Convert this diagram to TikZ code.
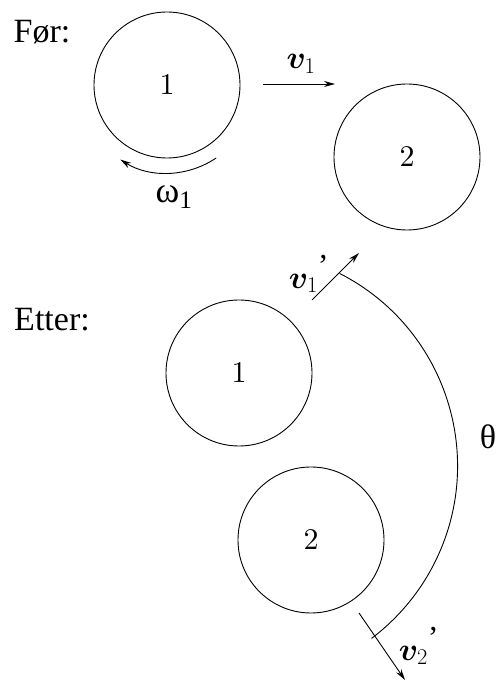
\RequirePackage{fix-cm}
\documentclass[tikz,border=0pt]{standalone}
\usepackage{fontspec}
\setmainfont{Liberation Serif}
\newfontfamily\lmten{lmroman10-regular.otf}
\usepackage{bm}
\usetikzlibrary{arrows.meta}

\begin{document}
\begin{tikzpicture}[x=1pt, y=1pt, font=\fontsize{34}{40}\selectfont,
  ball/.style={circle, draw, line width=0.9pt, minimum size=146pt, inner sep=0pt, font=\lmten\fontsize{30}{36}\selectfont},
  vlabel/.style={font=\fontsize{32}{38}\selectfont},
  vec/.style={line width=0.9pt, -{Stealth[length=11pt, width=6pt]}}]
  \useasboundingbox (0,0) rectangle (498,681);

  % before the collision
  \node (lblFor) at (42,649) {Før:};
  \node[ball] (befA) at (167,596) {1};
  \node[ball] (befB) at (407,524) {2};
  \coordinate (v1tail) at (263,597);
  \coordinate (v1tip) at (335,597);
  \draw[vec] (v1tail) -- (v1tip);
  \node[vlabel] (lblV1) at (301,617) {$\bm{v}_1$};
  % spin of ball 1
  \draw[vec] ([shift={(-56:88)}]befA.center) arc[start angle=-56, end angle=-122, radius=88];
  \node[font=\fontsize{36}{42}\selectfont] (lblOmega) at (174,484) {ω\textsubscript{1}};

  % after the collision
  \node (lblEtter) at (52,361) {Etter:};
  \node[ball] (aftA) at (239,308) {1};
  \node[ball] (aftB) at (311,141) {2};
  % scattering angle
  \coordinate (arcC) at (242,216);
  \draw[line width=0.9pt] ([shift={(63:215)}]arcC) arc[start angle=63, end angle=-53, radius=216];
  \node (lblTheta) at (488,244) {θ};
  % outgoing velocities
  \coordinate (v1ptail) at (312,381);
  \coordinate (v1ptip) at (359,428);
  \draw[vec] (v1ptail) -- (v1ptip);
  \node[vlabel] (lblV1p) at (309,407) {${\bm{v}_1}^{\textrm{’}}$};
  \coordinate (v2ptail) at (359,68);
  \coordinate (v2ptip) at (405,1);
  \draw[vec] (v2ptail) -- (v2ptip);
  \node[vlabel] (lblV2p) at (419,35) {${\bm{v}_2}^{\textrm{’}}$};
\end{tikzpicture}
\end{document}
